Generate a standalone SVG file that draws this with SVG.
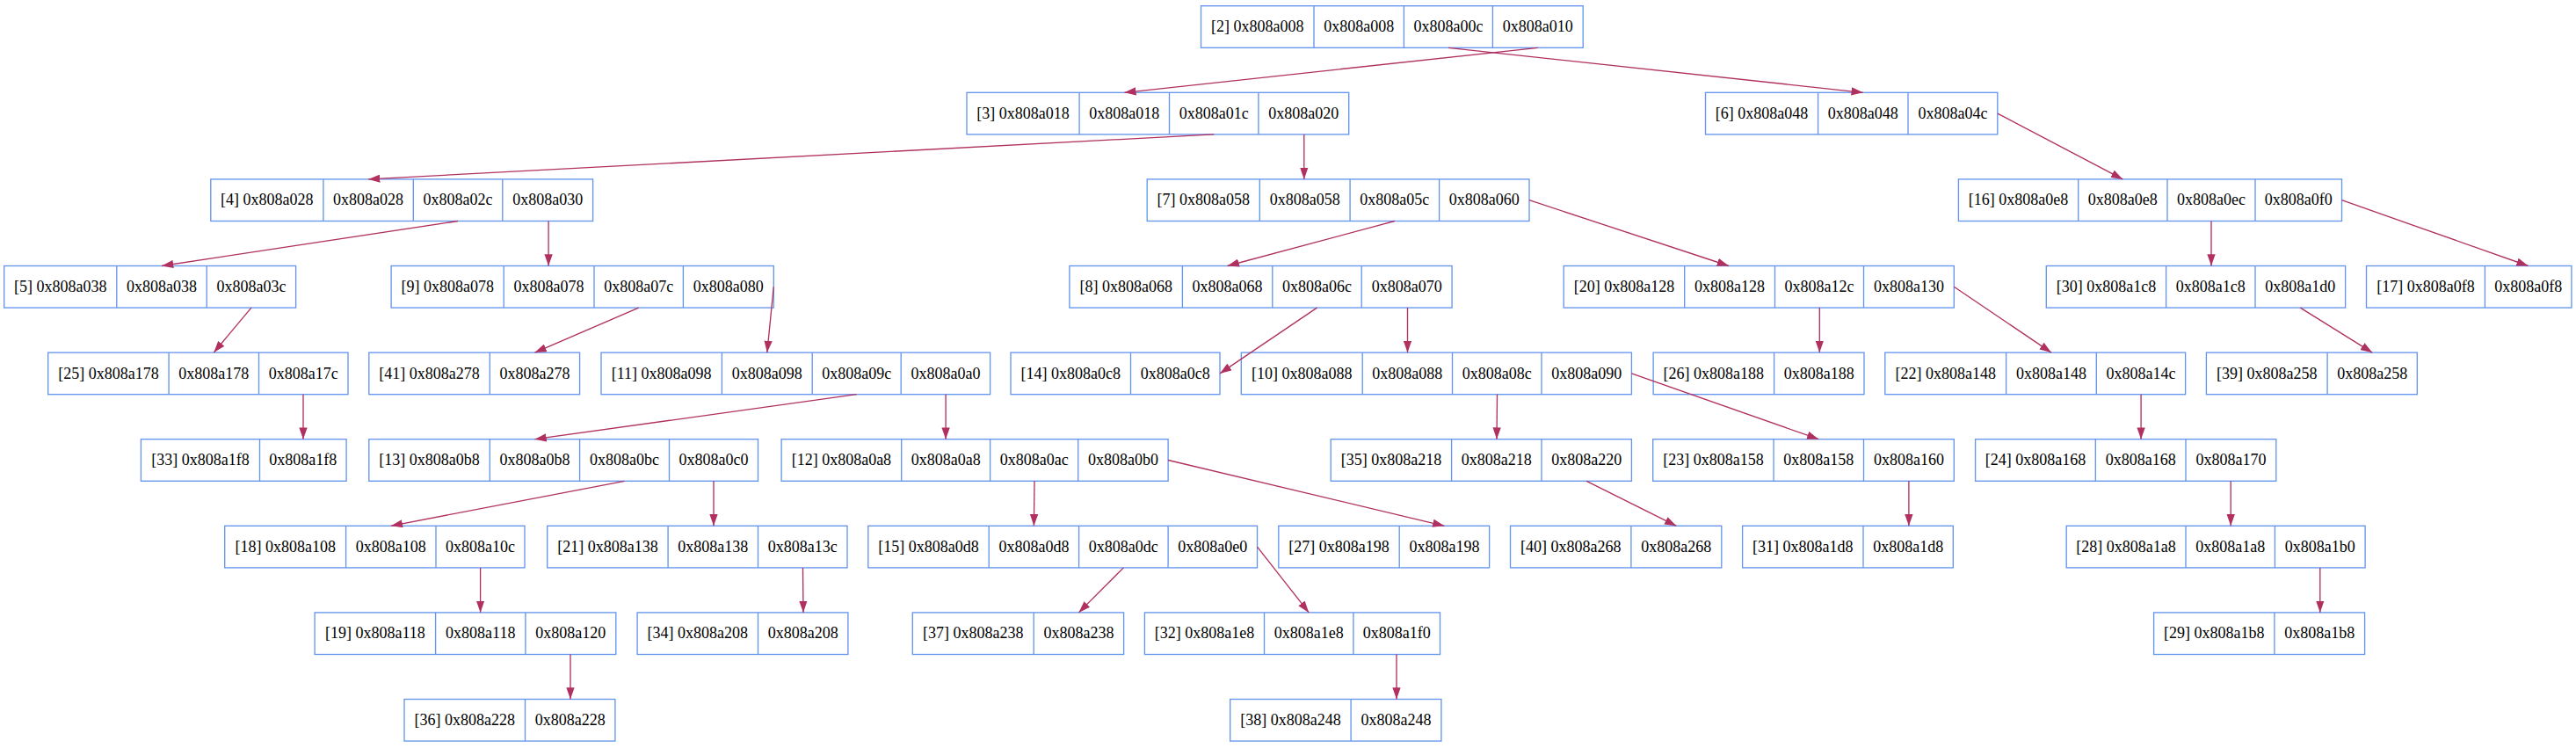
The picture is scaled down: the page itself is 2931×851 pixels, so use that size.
<svg xmlns="http://www.w3.org/2000/svg" width="2931" height="851" viewBox="0 0 2931 851">
<defs>
<style>
.b{fill:#fff;stroke:#6495ed;stroke-width:1.33}
.d{fill:none;stroke:#6495ed;stroke-width:1.33}
text{font-family:"Liberation Serif","Times New Roman",serif;font-size:18px;text-anchor:middle;fill:#000}
.e line{stroke:#b03060;stroke-width:1.33;marker-end:url(#ah)}
</style>
<marker id="ah" markerUnits="userSpaceOnUse" markerWidth="13.3" markerHeight="9.4" viewBox="0 0 10 7" refX="10" refY="3.5" orient="auto"><path d="M0,0L10,3.5L0,7z" fill="#b03060"/></marker>
</defs>
<rect width="2931" height="851" fill="#fff"/>
<g id="n2"><rect class="b" x="1366.5" y="6.7" width="434.7" height="47.6"/><path class="d" d="M1495 6.7v47.6M1597.4 6.7v47.6M1698.4 6.7v47.6"/><text x="1430.75" y="36.2">[2] 0x808a008</text><text x="1546.2" y="36.2">0x808a008</text><text x="1647.9" y="36.2">0x808a00c</text><text x="1749.8" y="36.2">0x808a010</text></g>
<g id="n3"><rect class="b" x="1100" y="105.3" width="434.7" height="47.6"/><path class="d" d="M1228.1 105.3v47.6M1330.5 105.3v47.6M1431.9 105.3v47.6"/><text x="1164.05" y="134.8">[3] 0x808a018</text><text x="1279.3" y="134.8">0x808a018</text><text x="1381.2" y="134.8">0x808a01c</text><text x="1483.3" y="134.8">0x808a020</text></g>
<g id="n6"><rect class="b" x="1940.5" y="105.3" width="332.3" height="47.6"/><path class="d" d="M2068.6 105.3v47.6M2171 105.3v47.6"/><text x="2004.55" y="134.8">[6] 0x808a048</text><text x="2119.8" y="134.8">0x808a048</text><text x="2221.9" y="134.8">0x808a04c</text></g>
<g id="n4"><rect class="b" x="239.8" y="203.9" width="434.8" height="47.6"/><path class="d" d="M367.9 203.9v47.6M470.3 203.9v47.6M571.8 203.9v47.6"/><text x="303.85" y="233.4">[4] 0x808a028</text><text x="419.1" y="233.4">0x808a028</text><text x="521.05" y="233.4">0x808a02c</text><text x="623.2" y="233.4">0x808a030</text></g>
<g id="n7"><rect class="b" x="1305.2" y="203.9" width="434.8" height="47.6"/><path class="d" d="M1433.3 203.9v47.6M1536.1 203.9v47.6M1637.6 203.9v47.6"/><text x="1369.25" y="233.4">[7] 0x808a058</text><text x="1484.7" y="233.4">0x808a058</text><text x="1586.85" y="233.4">0x808a05c</text><text x="1688.8" y="233.4">0x808a060</text></g>
<g id="n16"><rect class="b" x="2228.4" y="203.9" width="436.1" height="47.6"/><path class="d" d="M2364.7 203.9v47.6M2466 203.9v47.6M2566 203.9v47.6"/><text x="2296.55" y="233.4">[16] 0x808a0e8</text><text x="2415.35" y="233.4">0x808a0e8</text><text x="2516" y="233.4">0x808a0ec</text><text x="2615.25" y="233.4">0x808a0f0</text></g>
<g id="n5"><rect class="b" x="4.7" y="302.5" width="331.9" height="47.6"/><path class="d" d="M132.8 302.5v47.6M235.2 302.5v47.6"/><text x="68.75" y="332">[5] 0x808a038</text><text x="184" y="332">0x808a038</text><text x="285.9" y="332">0x808a03c</text></g>
<g id="n9"><rect class="b" x="445.1" y="302.5" width="435.2" height="47.6"/><path class="d" d="M573.2 302.5v47.6M676 302.5v47.6M777.4 302.5v47.6"/><text x="509.15" y="332">[9] 0x808a078</text><text x="624.6" y="332">0x808a078</text><text x="726.7" y="332">0x808a07c</text><text x="828.85" y="332">0x808a080</text></g>
<g id="n8"><rect class="b" x="1216.9" y="302.5" width="435.2" height="47.6"/><path class="d" d="M1345.4 302.5v47.6M1447.8 302.5v47.6M1549.2 302.5v47.6"/><text x="1281.15" y="332">[8] 0x808a068</text><text x="1396.6" y="332">0x808a068</text><text x="1498.5" y="332">0x808a06c</text><text x="1600.65" y="332">0x808a070</text></g>
<g id="n20"><rect class="b" x="1779.2" y="302.5" width="444.1" height="47.6"/><path class="d" d="M1916.7 302.5v47.6M2019.5 302.5v47.6M2120.5 302.5v47.6"/><text x="1847.95" y="332">[20] 0x808a128</text><text x="1968.1" y="332">0x808a128</text><text x="2070" y="332">0x808a12c</text><text x="2171.9" y="332">0x808a130</text></g>
<g id="n30"><rect class="b" x="2328.3" y="302.5" width="340.3" height="47.6"/><path class="d" d="M2464.6 302.5v47.6M2566 302.5v47.6"/><text x="2396.45" y="332">[30] 0x808a1c8</text><text x="2515.3" y="332">0x808a1c8</text><text x="2617.3" y="332">0x808a1d0</text></g>
<g id="n17"><rect class="b" x="2692.5" y="302.5" width="233.4" height="47.6"/><path class="d" d="M2827.4 302.5v47.6"/><text x="2759.95" y="332">[17] 0x808a0f8</text><text x="2876.65" y="332">0x808a0f8</text></g>
<g id="n25"><rect class="b" x="54.7" y="401.1" width="341.3" height="47.6"/><path class="d" d="M192.1 401.1v47.6M294.5 401.1v47.6"/><text x="123.4" y="430.6">[25] 0x808a178</text><text x="243.3" y="430.6">0x808a178</text><text x="345.25" y="430.6">0x808a17c</text></g>
<g id="n41"><rect class="b" x="419.8" y="401.1" width="239.8" height="47.6"/><path class="d" d="M557.3 401.1v47.6"/><text x="488.55" y="430.6">[41] 0x808a278</text><text x="608.45" y="430.6">0x808a278</text></g>
<g id="n11"><rect class="b" x="684" y="401.1" width="442.6" height="47.6"/><path class="d" d="M821.4 401.1v47.6M924.2 401.1v47.6M1025.2 401.1v47.6"/><text x="752.7" y="430.6">[11] 0x808a098</text><text x="872.8" y="430.6">0x808a098</text><text x="974.7" y="430.6">0x808a09c</text><text x="1075.9" y="430.6">0x808a0a0</text></g>
<g id="n14"><rect class="b" x="1150" y="401.1" width="238" height="47.6"/><path class="d" d="M1286.5 401.1v47.6"/><text x="1218.25" y="430.6">[14] 0x808a0c8</text><text x="1337.25" y="430.6">0x808a0c8</text></g>
<g id="n10"><rect class="b" x="1412.3" y="401.1" width="444.1" height="47.6"/><path class="d" d="M1550.2 401.1v47.6M1652.5 401.1v47.6M1754 401.1v47.6"/><text x="1481.25" y="430.6">[10] 0x808a088</text><text x="1601.35" y="430.6">0x808a088</text><text x="1703.25" y="430.6">0x808a08c</text><text x="1805.2" y="430.6">0x808a090</text></g>
<g id="n26"><rect class="b" x="1881.1" y="401.1" width="239.9" height="47.6"/><path class="d" d="M2018.6 401.1v47.6"/><text x="1949.85" y="430.6">[26] 0x808a188</text><text x="2069.8" y="430.6">0x808a188</text></g>
<g id="n22"><rect class="b" x="2144.8" y="401.1" width="341.8" height="47.6"/><path class="d" d="M2282.6 401.1v47.6M2385.3 401.1v47.6"/><text x="2213.7" y="430.6">[22] 0x808a148</text><text x="2333.95" y="430.6">0x808a148</text><text x="2435.95" y="430.6">0x808a14c</text></g>
<g id="n39"><rect class="b" x="2510.4" y="401.1" width="239.9" height="47.6"/><path class="d" d="M2648.1 401.1v47.6"/><text x="2579.25" y="430.6">[39] 0x808a258</text><text x="2699.2" y="430.6">0x808a258</text></g>
<g id="n33"><rect class="b" x="160.4" y="499.7" width="233.7" height="47.6"/><path class="d" d="M295.5 499.7v47.6"/><text x="227.95" y="529.2">[33] 0x808a1f8</text><text x="344.8" y="529.2">0x808a1f8</text></g>
<g id="n13"><rect class="b" x="419.8" y="499.7" width="442.7" height="47.6"/><path class="d" d="M557.3 499.7v47.6M659.6 499.7v47.6M761.5 499.7v47.6"/><text x="488.55" y="529.2">[13] 0x808a0b8</text><text x="608.45" y="529.2">0x808a0b8</text><text x="710.55" y="529.2">0x808a0bc</text><text x="812" y="529.2">0x808a0c0</text></g>
<g id="n12"><rect class="b" x="889.1" y="499.7" width="440" height="47.6"/><path class="d" d="M1025.7 499.7v47.6M1126.6 499.7v47.6M1226.7 499.7v47.6"/><text x="957.4" y="529.2">[12] 0x808a0a8</text><text x="1076.15" y="529.2">0x808a0a8</text><text x="1176.65" y="529.2">0x808a0ac</text><text x="1277.9" y="529.2">0x808a0b0</text></g>
<g id="n35"><rect class="b" x="1514.2" y="499.7" width="342.2" height="47.6"/><path class="d" d="M1651.6 499.7v47.6M1754 499.7v47.6"/><text x="1582.9" y="529.2">[35] 0x808a218</text><text x="1702.8" y="529.2">0x808a218</text><text x="1805.2" y="529.2">0x808a220</text></g>
<g id="n23"><rect class="b" x="1880.7" y="499.7" width="342.6" height="47.6"/><path class="d" d="M2018.1 499.7v47.6M2120.5 499.7v47.6"/><text x="1949.4" y="529.2">[23] 0x808a158</text><text x="2069.3" y="529.2">0x808a158</text><text x="2171.9" y="529.2">0x808a160</text></g>
<g id="n24"><rect class="b" x="2247.6" y="499.7" width="342.2" height="47.6"/><path class="d" d="M2384.3 499.7v47.6M2487 499.7v47.6"/><text x="2315.95" y="529.2">[24] 0x808a168</text><text x="2435.65" y="529.2">0x808a168</text><text x="2538.4" y="529.2">0x808a170</text></g>
<g id="n18"><rect class="b" x="255.7" y="598.3" width="341.3" height="47.6"/><path class="d" d="M393.6 598.3v47.6M496 598.3v47.6"/><text x="324.65" y="627.8">[18] 0x808a108</text><text x="444.8" y="627.8">0x808a108</text><text x="546.5" y="627.8">0x808a10c</text></g>
<g id="n21"><rect class="b" x="622.7" y="598.3" width="341.3" height="47.6"/><path class="d" d="M760.1 598.3v47.6M862.5 598.3v47.6"/><text x="691.4" y="627.8">[21] 0x808a138</text><text x="811.3" y="627.8">0x808a138</text><text x="913.25" y="627.8">0x808a13c</text></g>
<g id="n15"><rect class="b" x="987.8" y="598.3" width="442.7" height="47.6"/><path class="d" d="M1125.2 598.3v47.6M1227.6 598.3v47.6M1329.1 598.3v47.6"/><text x="1056.5" y="627.8">[15] 0x808a0d8</text><text x="1176.4" y="627.8">0x808a0d8</text><text x="1278.35" y="627.8">0x808a0dc</text><text x="1379.8" y="627.8">0x808a0e0</text></g>
<g id="n27"><rect class="b" x="1454.8" y="598.3" width="239.8" height="47.6"/><path class="d" d="M1592.2 598.3v47.6"/><text x="1523.5" y="627.8">[27] 0x808a198</text><text x="1643.4" y="627.8">0x808a198</text></g>
<g id="n40"><rect class="b" x="1718.5" y="598.3" width="240.3" height="47.6"/><path class="d" d="M1855.9 598.3v47.6"/><text x="1787.2" y="627.8">[40] 0x808a268</text><text x="1907.35" y="627.8">0x808a268</text></g>
<g id="n31"><rect class="b" x="1982.6" y="598.3" width="239.7" height="47.6"/><path class="d" d="M2120 598.3v47.6"/><text x="2051.3" y="627.8">[31] 0x808a1d8</text><text x="2171.15" y="627.8">0x808a1d8</text></g>
<g id="n28"><rect class="b" x="2351.2" y="598.3" width="339.9" height="47.6"/><path class="d" d="M2487 598.3v47.6M2588.4 598.3v47.6"/><text x="2419.1" y="627.8">[28] 0x808a1a8</text><text x="2537.7" y="627.8">0x808a1a8</text><text x="2639.75" y="627.8">0x808a1b0</text></g>
<g id="n19"><rect class="b" x="358.1" y="696.9" width="342.7" height="47.6"/><path class="d" d="M495.6 696.9v47.6M597.9 696.9v47.6"/><text x="426.85" y="726.4">[19] 0x808a118</text><text x="546.75" y="726.4">0x808a118</text><text x="649.35" y="726.4">0x808a120</text></g>
<g id="n34"><rect class="b" x="725.1" y="696.9" width="239.8" height="47.6"/><path class="d" d="M862.5 696.9v47.6"/><text x="793.8" y="726.4">[34] 0x808a208</text><text x="913.7" y="726.4">0x808a208</text></g>
<g id="n37"><rect class="b" x="1038.3" y="696.9" width="240.3" height="47.6"/><path class="d" d="M1176.2 696.9v47.6"/><text x="1107.25" y="726.4">[37] 0x808a238</text><text x="1227.4" y="726.4">0x808a238</text></g>
<g id="n32"><rect class="b" x="1302.4" y="696.9" width="336.1" height="47.6"/><path class="d" d="M1438.5 696.9v47.6M1539.9 696.9v47.6"/><text x="1370.45" y="726.4">[32] 0x808a1e8</text><text x="1489.2" y="726.4">0x808a1e8</text><text x="1589.2" y="726.4">0x808a1f0</text></g>
<g id="n29"><rect class="b" x="2450.6" y="696.9" width="240" height="47.6"/><path class="d" d="M2587.9 696.9v47.6"/><text x="2519.25" y="726.4">[29] 0x808a1b8</text><text x="2639.25" y="726.4">0x808a1b8</text></g>
<g id="n36"><rect class="b" x="460" y="795.5" width="239.9" height="47.6"/><path class="d" d="M597.5 795.5v47.6"/><text x="528.75" y="825">[36] 0x808a228</text><text x="648.7" y="825">0x808a228</text></g>
<g id="n38"><rect class="b" x="1399.7" y="795.5" width="240.2" height="47.6"/><path class="d" d="M1537.1 795.5v47.6"/><text x="1468.4" y="825">[38] 0x808a248</text><text x="1588.5" y="825">0x808a248</text></g>
<g id="edges" class="e">
<line x1="1749.8" y1="54.3" x2="1279.3" y2="105.3"/>
<line x1="1647.9" y1="54.3" x2="2119.8" y2="105.3"/>
<line x1="1381.2" y1="152.9" x2="419.1" y2="203.9"/>
<line x1="1483.8" y1="152.9" x2="1483.8" y2="203.9"/>
<line x1="2272.8" y1="129.1" x2="2415.3" y2="203.9"/>
<line x1="521" y1="251.5" x2="184" y2="302.5"/>
<line x1="624.1" y1="251.5" x2="624.1" y2="302.5"/>
<line x1="1586.9" y1="251.5" x2="1396.6" y2="302.5"/>
<line x1="1740" y1="227.7" x2="1967" y2="302.5"/>
<line x1="2516" y1="251.5" x2="2516" y2="302.5"/>
<line x1="2664.5" y1="227.7" x2="2876.6" y2="302.5"/>
<line x1="285.9" y1="350.1" x2="243.3" y2="401.1"/>
<line x1="726.7" y1="350.1" x2="608.5" y2="401.1"/>
<line x1="880.3" y1="326.3" x2="872.8" y2="401.1"/>
<line x1="1498.5" y1="350.1" x2="1388" y2="424.9"/>
<line x1="1601.5" y1="350.1" x2="1601.5" y2="401.1"/>
<line x1="2070.3" y1="350.1" x2="2070.3" y2="401.1"/>
<line x1="2223.3" y1="326.3" x2="2334" y2="401.1"/>
<line x1="2617.3" y1="350.1" x2="2699.2" y2="401.1"/>
<line x1="345" y1="448.7" x2="345" y2="499.7"/>
<line x1="974.7" y1="448.7" x2="608.5" y2="499.7"/>
<line x1="1076.1" y1="448.7" x2="1076.1" y2="499.7"/>
<line x1="1703.5" y1="448.7" x2="1703" y2="499.7"/>
<line x1="1856.4" y1="424.9" x2="2069.3" y2="499.7"/>
<line x1="2436.1" y1="448.7" x2="2436.1" y2="499.7"/>
<line x1="710.5" y1="547.3" x2="444.8" y2="598.3"/>
<line x1="812" y1="547.3" x2="812" y2="598.3"/>
<line x1="1177" y1="547.3" x2="1176.4" y2="598.3"/>
<line x1="1329.1" y1="523.5" x2="1643.4" y2="598.3"/>
<line x1="1805.2" y1="547.3" x2="1907.4" y2="598.3"/>
<line x1="2171.9" y1="547.3" x2="2171.9" y2="598.3"/>
<line x1="2538.2" y1="547.3" x2="2538.2" y2="598.3"/>
<line x1="546.6" y1="645.9" x2="546.6" y2="696.9"/>
<line x1="913.5" y1="645.9" x2="914" y2="696.9"/>
<line x1="1278.4" y1="645.9" x2="1227.4" y2="696.9"/>
<line x1="1430.5" y1="622.1" x2="1489.2" y2="696.9"/>
<line x1="2639.8" y1="645.9" x2="2639.8" y2="696.9"/>
<line x1="649" y1="744.5" x2="649" y2="795.5"/>
<line x1="1589" y1="744.5" x2="1589" y2="795.5"/>
</g>
</svg>
